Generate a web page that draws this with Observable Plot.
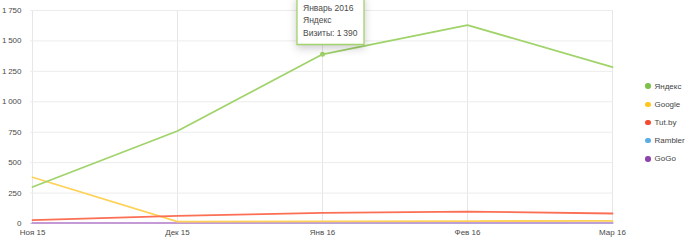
<!DOCTYPE html>
<html><head><meta charset="utf-8">
<script src="https://cdn.jsdelivr.net/npm/d3@7"></script>
<script src="https://cdn.jsdelivr.net/npm/@observablehq/plot@0.6"></script>
<style>
body{margin:0;background:#fff;font-family:"Liberation Sans",Arial,sans-serif;}
#wrap{position:relative;width:694px;height:251px;}
#chart{position:absolute;left:0;top:0;}
#legend{position:absolute;left:645px;top:77px;font-size:8px;color:#444;}
#legend div{height:18.2px;display:flex;align-items:center;}
#legend span.d{display:inline-block;width:5.5px;height:5.5px;border-radius:50%;margin-right:4px;}
</style></head>
<body><div id="wrap"><div id="chart"></div><div id="legend"></div></div>
<script>
const months = ["Ноя 15","Дек 15","Янв 16","Фев 16","Мар 16"];
const monthNames = ["Ноябрь 2015","Декабрь 2015","Январь 2016","Февраль 2016","Март 2016"];
const seriesNames = ["Яндекс","Google","Tut.by","Rambler","GoGo"];
const yandex  = [300, 760, 1390, 1630, 1285];
const google  = [380, 15, 18, 20, 22];
const tutby   = [28, 62, 87, 98, 82];
const rambler = [5, 5, 6, 6, 6];
const gogo    = [4, 4, 5, 5, 5];
const yTicks = [0, 250, 500, 750, 1000, 1250, 1500, 1750];
const lineColors = ["#a0d36a","#ffd257","#fb6f55","#6cb8ea","#c49ad6"];
const dotColors  = ["#7cc24a","#ffc61e","#f54a2e","#5aaee8","#8e44ad"];
const drawOrder = [3, 4, 1, 2, 0];
const tipSeries = 0, tipMonth = 2;

const values = [yandex, google, tutby, rambler, gogo];
const rows = [];
drawOrder.forEach(si => {
  values[si].forEach((v, i) => rows.push({series: seriesNames[si], month: months[i], value: v}));
});
const fmt = v => d3.format(",")(v).replace(/,/g, "\u2009");
const tipRow = [{month: months[tipMonth], value: values[tipSeries][tipMonth],
  text: `${monthNames[tipMonth]}\n${seriesNames[tipSeries]}\nВизиты: ${fmt(values[tipSeries][tipMonth])}`}];

const chart = Plot.plot({
  width: 640, height: 251,
  marginLeft: 30, marginRight: 27, marginTop: 10, marginBottom: 28,
  style: {fontFamily: '"Liberation Sans", Arial, sans-serif', fontSize: "8px", color: "#4a4a4a", background: "transparent"},
  x: {type: "point", domain: months, padding: 0, label: null, tickSize: 0, tickPadding: 6},
  y: {domain: [0, 1750], ticks: yTicks, label: null, tickSize: 0, tickPadding: 9, tickFormat: fmt},
  color: {domain: seriesNames, range: lineColors},
  marks: [
    Plot.gridX(months, {x: d => d, stroke: "#e6e6e6", strokeOpacity: 1}),
    Plot.gridY(yTicks, {y: d => d, stroke: "#ececec", strokeOpacity: 1}),
    Plot.ruleY([0], {stroke: "#d8d8d8"}),
    Plot.line(rows, {x: "month", y: "value", z: "series", stroke: "series", strokeWidth: 1.8}),
    Plot.dot(tipRow, {x: "month", y: "value", r: 2.5, fill: lineColors[tipSeries]}),
    Plot.tip(tipRow, {x: "month", y: "value", title: "text", anchor: "bottom", pointerSize: 0,
      dx: 8, dy: -10, fill: "white", stroke: "#a3d36e", strokeWidth: 1.3,
      fontSize: 8.5, lineHeight: 1.5, textPadding: 6})
  ]
});
document.getElementById("chart").appendChild(chart);

const lg = document.getElementById("legend");
seriesNames.forEach((n, i) => {
  const d = document.createElement("div");
  d.innerHTML = `<span class="d" style="background:${dotColors[i]}"></span>${n}`;
  lg.appendChild(d);
});
</script></body></html>
